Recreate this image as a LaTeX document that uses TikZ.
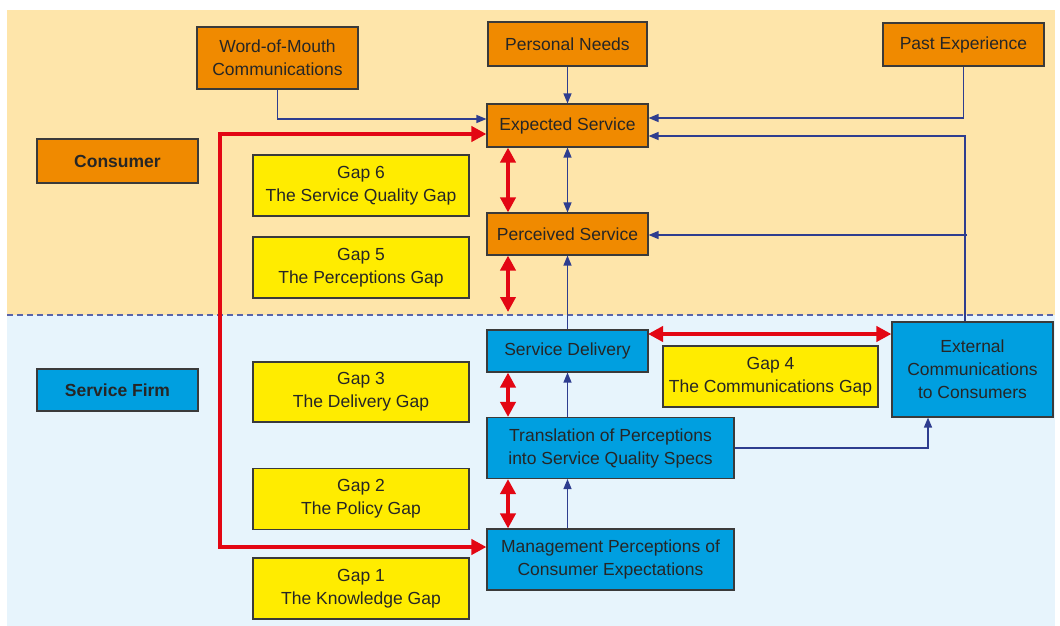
\documentclass[tikz,border=0pt]{standalone}
\usepackage{fontspec}
\setmainfont{Liberation Sans}
\usetikzlibrary{arrows.meta}
\definecolor{bgorange}{HTML}{FEE5AA}
\definecolor{bgblue}{HTML}{E7F4FC}
\definecolor{boxorange}{HTML}{F08A00}
\definecolor{boxblue}{HTML}{009FE0}
\definecolor{boxyellow}{HTML}{FFEC00}
\definecolor{lineblue}{HTML}{2E3D8F}
\definecolor{dashblue}{HTML}{5A64A8}
\definecolor{gapred}{HTML}{E30613}
\definecolor{edge}{HTML}{3A3A3A}
\definecolor{txt}{HTML}{262626}
\tikzset{
  base/.style={draw=edge, line width=1.1pt, text=txt, align=center, inner sep=0pt,
    font=\fontsize{17.5}{23}\selectfont},
  obox/.style={base, fill=boxorange, minimum width=161pt},
  bbox/.style={base, fill=boxblue},
  ybox/.style={base, fill=boxyellow, minimum width=216pt, minimum height=61pt},
  flow/.style={draw=lineblue, line width=1.3pt, -{Triangle[length=10pt,width=8pt]}},
  flowboth/.style={draw=lineblue, line width=1.3pt, {Triangle[length=10pt,width=8pt]}-{Triangle[length=10pt,width=8pt]}},
  gap/.style={draw=gapred, line width=4pt, {Triangle[length=15pt,width=15pt]}-{Triangle[length=15pt,width=15pt]}},
}
\begin{document}
\begin{tikzpicture}[x=1pt,y=-1pt]
\useasboundingbox (0,0) rectangle (1060,626);
% backgrounds
\fill[bgorange] (7,10) rectangle (1055,315);
\fill[bgblue] (7,315) rectangle (1055,626);
\draw[dashblue, line width=1.2pt, dash pattern=on 6pt off 4pt] (7,315) -- (1055,315);

% consumer side
\node[obox, minimum height=62pt] (wom) at (277.5,58) {Word-of-Mouth\\Communications};
\node[obox, minimum width=159pt, minimum height=44pt] (pn) at (567.5,44) {Personal Needs};
\node[obox, minimum height=43pt] (pe) at (963.5,44.5) {Past Experience};
\node[obox, minimum height=43pt] (es) at (567.5,125.5) {Expected Service};
\node[obox, minimum height=42pt] (ps) at (567.5,234) {Perceived Service};
\node[obox, minimum height=44pt, font=\fontsize{17.5}{23}\selectfont\bfseries] (con) at (117.5,161) {Consumer};

% service firm side
\node[bbox, minimum width=161pt, minimum height=42pt, font=\fontsize{17.5}{23}\selectfont\bfseries] (sf) at (117.5,390) {Service Firm};
\node[bbox, minimum width=161pt, minimum height=42pt] (sd) at (567.5,351) {Service Delivery};
\node[bbox, minimum width=247pt, minimum height=61pt] (tr) at (610.5,448) {Translation of Perceptions\\into Service Quality Specs};
\node[bbox, minimum width=247pt, minimum height=61pt] (mp) at (610.5,559.5) {Management Perceptions of\\Consumer Expectations};
\node[bbox, minimum width=161pt, minimum height=95pt] (ec) at (972.5,369.5) {External\\Communications\\to Consumers};

% gaps
\node[ybox] (g6) at (361,185.5) {Gap 6\\The Service Quality Gap};
\node[ybox] (g5) at (361,267.5) {Gap 5\\The Perceptions Gap};
\node[ybox, minimum height=60pt] (g3) at (361,392) {Gap 3\\The Delivery Gap};
\node[ybox] (g2) at (361,499) {Gap 2\\The Policy Gap};
\node[ybox] (g1) at (361,588.5) {Gap 1\\The Knowledge Gap};
\node[ybox, minimum width=215pt] (g4) at (770.5,376.5) {Gap 4\\The Communications Gap};

% blue flows
\draw[flow] (wom.south) |- (es.west |- 0,119);
\draw[flow] (pn.south) -- (es.north);
\draw[flow] (pe.south) |- (es.east |- 0,118);
\coordinate (ecup) at (965,136);
\draw[flow] (ec.north -| ecup) -- (ecup) -- (es.east |- ecup);
\coordinate (psbr) at (967,235);
\draw[flow] (psbr) -- (ps.east |- psbr);
\draw[flowboth] (es.south) -- (ps.north);
\draw[flow] (sd.north -| es.south) -- (ps.south -| es.south);
\draw[flow] (tr.north -| es.south) -- (sd.south -| es.south);
\draw[flow] (mp.north -| es.south) -- (tr.south -| es.south);
\coordinate (trcorner) at (928,448);
\draw[flow] (tr.east) -- (trcorner) -- (trcorner |- ec.south);

% red gap arrows
\coordinate (gx) at (508,0);
\coordinate (dash) at (508,312);
\draw[gap] (es.south -| gx) -- (ps.north -| gx);
\draw[gap] (ps.south -| gx) -- (dash);
\draw[gap] (sd.south -| gx) -- (tr.north -| gx);
\draw[gap] (tr.south -| gx) -- (mp.north -| gx);
\coordinate (sdgap) at (648,334);
\draw[gap] (sdgap) -- (ec.west |- sdgap);
\coordinate (rtop) at (220,134);
\coordinate (rbot) at (220,547);
\draw[gap] (es.west |- rtop) -- (rtop) -- (rbot) -- (mp.west |- rbot);
\end{tikzpicture}
\end{document}
